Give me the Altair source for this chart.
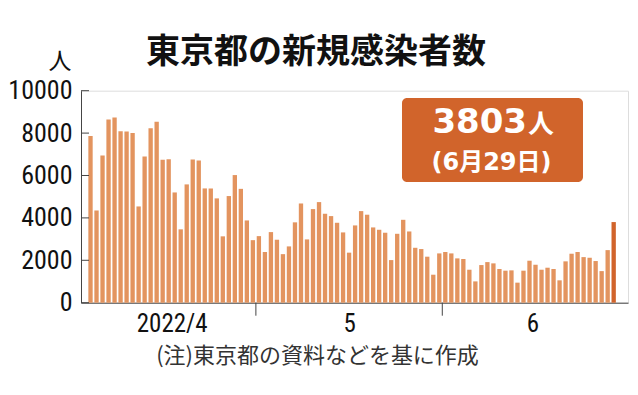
import altair as alt
import pandas as pd
import datetime as dt

# ---- data ----
start_date = "2022-04-03"
cases = [
    7860, 4350, 6940, 8640, 8735, 8090, 8075, 8010, 4540, 6900,   # Apr 3-12
    8230, 8530, 6740, 6770, 5200, 3460, 5580, 6755, 6710, 5390,   # Apr 13-22
    5390, 4920, 3130, 5030, 6020, 5370, 3880, 2950,               # Apr 23-30
    3140, 2390, 3330, 2970, 2290, 2655, 3790, 4680, 2985, 4415,   # May 1-10
    4745, 4195, 4085, 3770, 3315, 2360, 3645, 4320, 4150, 3550,   # May 11-20
    3440, 3300, 2010, 3250, 3910, 3360, 2590, 2530, 2170, 1320, 2325,  # May 21-31
    2390, 2325, 2090, 2060, 1555, 1005, 1775, 1915, 1855, 1590,   # Jun 1-10
    1510, 1525, 945, 1510, 1980, 1790, 1555, 1650, 1590, 1055,    # Jun 11-20
    1950, 2310, 2390, 2150, 2120, 1965, 1490, 2480, 3803,         # Jun 21-29
]
month_labels = ["2022/4", "5", "6"]
month_first_days = ["2022-04-03", "2022-05-01", "2022-06-01"]
month_last_days = ["2022-04-30", "2022-05-31", "2022-06-30"]
y_ticks = [0, 2000, 4000, 6000, 8000, 10000]

title_text = "東京都の新規感染者数"
unit_text = "人"
note_text = "(注)東京都の資料などを基に作成"

BAR = "#E3945F"
HIL = "#D1642B"
AXIS = "#444444"
NUM_FONT = "Liberation Sans Narrow, Roboto Condensed, DejaVu Sans Condensed, Liberation Sans"
JP_FONT = "Noto Sans CJK JP"

# ---- derived tables ----
d0 = dt.date.fromisoformat(start_date)
def idx(s):
    return (dt.date.fromisoformat(s) - d0).days

n = len(cases)
df = pd.DataFrame({
    "i": list(range(n)),
    "date": [(d0 + dt.timedelta(days=k)).isoformat() for k in range(n)],
    "cases": cases,
    "hl": ["last" if k == n - 1 else "other" for k in range(n)],
})
df["x0"] = df["i"] - 0.36
df["x1"] = df["i"] + 0.36

mid = [(idx(a) + idx(b)) / 2 for a, b in zip(month_first_days, month_last_days)]
bounds = pd.DataFrame({"b": [idx(s) - 0.5 for s in month_first_days[1:]]})
yt = pd.DataFrame({"v": y_ticks})

label_expr = " : ".join(
    f"abs(datum.value - {m}) < 0.01 ? '{l}'" for m, l in zip(mid, month_labels)
) + " : ''"

W, H = 547, 212
xscale = alt.Scale(domain=[-1.58, 89.38], nice=False, zero=False)
yscale = alt.Scale(domain=[0, 10000], nice=False)

bars = alt.Chart(df).mark_rect().encode(
    x=alt.X("x0:Q", scale=xscale,
            axis=alt.Axis(values=mid, labelExpr=label_expr,
                          title=None, ticks=False, tickSize=0, grid=False,
                          labelFont=NUM_FONT, labelFontSize=25, labelColor="#111",
                          labelBaseline="alphabetic", labelPadding=29,
                          domainColor=AXIS, domainWidth=1, labelFlush=False)),
    x2="x1:Q",
    y=alt.Y("cases:Q", scale=yscale,
            axis=alt.Axis(values=y_ticks, format="d", title=None, ticks=False, tickSize=0, grid=False,
                          labelFont=NUM_FONT, labelFontSize=26, labelColor="#111",
                          labelPadding=9, domainColor=AXIS, domainWidth=1)),
    y2=alt.datum(0),
    color=alt.Color("hl:N", scale=alt.Scale(domain=["other", "last"], range=[BAR, HIL]), legend=None),
)

ytick = alt.Chart(yt).mark_rule(color=AXIS, strokeWidth=1).encode(
    y=alt.Y("v:Q", scale=yscale), x=alt.value(0), x2=alt.value(8)
)
xtick = alt.Chart(bounds).mark_rule(color=AXIS, strokeWidth=1).encode(
    x=alt.X("b:Q", scale=xscale), y=alt.value(H), y2=alt.value(H + 13)
)

last_date = dt.date.fromisoformat(df["date"].iloc[-1])
one = pd.DataFrame({"t": [title_text], "u": [unit_text], "note": [note_text],
                    "num": [str(cases[-1])],
                    "day": [f"({last_date.month}月{last_date.day}日)"]})

title = alt.Chart(one).mark_text(font=JP_FONT, fontSize=34, fontWeight="bold", color="#111",
                                 align="center", baseline="alphabetic").encode(
    text="t:N", x=alt.value(235), y=alt.value(-27.7))
unit = alt.Chart(one).mark_text(font=JP_FONT, fontSize=23, color="#111",
                                align="center", baseline="alphabetic").encode(
    text="u:N", x=alt.value(-21), y=alt.value(-22))
note = alt.Chart(one).mark_text(font=JP_FONT, fontSize=22, color="#333",
                                align="center", baseline="alphabetic").encode(
    text="note:N", x=alt.value(236.5), y=alt.value(272))

box = alt.Chart(one).mark_rect(color=HIL, cornerRadius=5).encode(
    x=alt.value(321), x2=alt.value(502), y=alt.value(7.3), y2=alt.value(91.3))
num = alt.Chart(one).mark_text(font="DejaVu Sans", fontSize=34, fontWeight="bold", color="white",
                               align="right", baseline="alphabetic").encode(
    text="num:N", x=alt.value(446), y=alt.value(42.3))
numunit = alt.Chart(one).mark_text(font=JP_FONT, fontSize=26, fontWeight="bold", color="white",
                                   align="left", baseline="alphabetic").encode(
    text="u:N", x=alt.value(447), y=alt.value(42.3))
day = alt.Chart(one).mark_text(font="DejaVu Sans, " + JP_FONT, fontSize=24, fontWeight="bold", color="white",
                               align="center", baseline="alphabetic").encode(
    text="day:N", x=alt.value(410.5), y=alt.value(79.3))

chart = alt.layer(bars, ytick, xtick, title, unit, note, box, num, numunit, day).properties(
    width=W, height=H,
    autosize=alt.AutoSizeParams(type="none"),
    padding={"left": 73, "top": 82.7, "right": 2, "bottom": 84},
).configure_view(stroke=None).configure(background="white")

chart.save("out.html", embed_options={"renderer": "svg", "actions": False})
